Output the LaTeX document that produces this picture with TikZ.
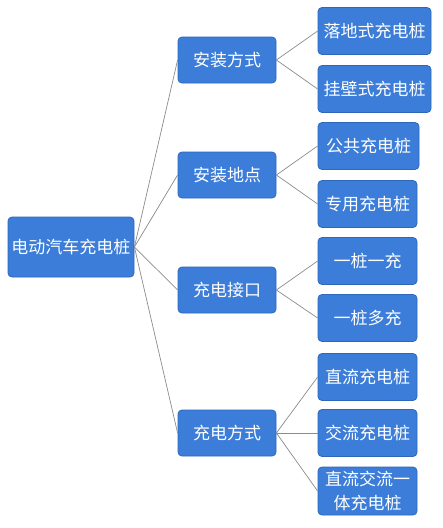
\documentclass[tikz,border=0pt]{standalone}
\usepackage{fontspec}
\setmainfont{Noto Sans CJK SC}
\definecolor{boxblue}{HTML}{3B7DD8}
\definecolor{boxedge}{HTML}{2F68BA}
\definecolor{linegray}{HTML}{8C8C8C}
\begin{document}
\begin{tikzpicture}[x=1pt,y=-1pt,
  box/.style={draw=boxedge,line width=0.8pt,fill=boxblue,rounded corners=4pt,
    text=white,inner sep=0pt,align=center,font=\fontsize{17}{25}\selectfont},
  lone/.style={box,minimum width=98pt,minimum height=46pt},
  ltwo/.style={box,minimum width=99pt,minimum height=47pt},
  link/.style={draw=linegray,line width=0.7pt}]
\useasboundingbox (0,0) rectangle (443,528);
\fill[white] (0,0) rectangle (443,528);
\node[box,minimum width=126pt,minimum height=60pt] (root) at (71,247) {电动汽车充电桩};
\node[lone] (a) at (227,60) {安装方式};
\node[lone] (b) at (227,175) {安装地点};
\node[lone] (c) at (227,290) {充电接口};
\node[lone] (d) at (227,433) {充电方式};
\node[ltwo,minimum width=113pt] (a1) at (374.5,31) {落地式充电桩};
\node[ltwo,minimum width=113pt] (a2) at (374.5,89) {挂壁式充电桩};
\node[ltwo,minimum width=101pt] (b1) at (368.5,146) {公共充电桩};
\node[ltwo] (b2) at (367.5,204) {专用充电桩};
\node[ltwo] (c1) at (367.5,261) {一桩一充};
\node[ltwo] (c2) at (367.5,318) {一桩多充};
\node[ltwo] (d1) at (367.5,377) {直流充电桩};
\node[ltwo] (d2) at (367.5,433) {交流充电桩};
\node[ltwo,minimum height=48pt] (d3) at (367.5,491) {直流交流一\\[-1pt]体充电桩};
\foreach \t in {a,b,c,d} \draw[link] (root.east) -- (\t.west);
\foreach \t in {a1,a2} \draw[link] (a.east) -- (\t.west);
\foreach \t in {b1,b2} \draw[link] (b.east) -- (\t.west);
\foreach \t in {c1,c2} \draw[link] (c.east) -- (\t.west);
\foreach \t in {d1,d2,d3} \draw[link] (d.east) -- (\t.west);
\end{tikzpicture}
\end{document}
